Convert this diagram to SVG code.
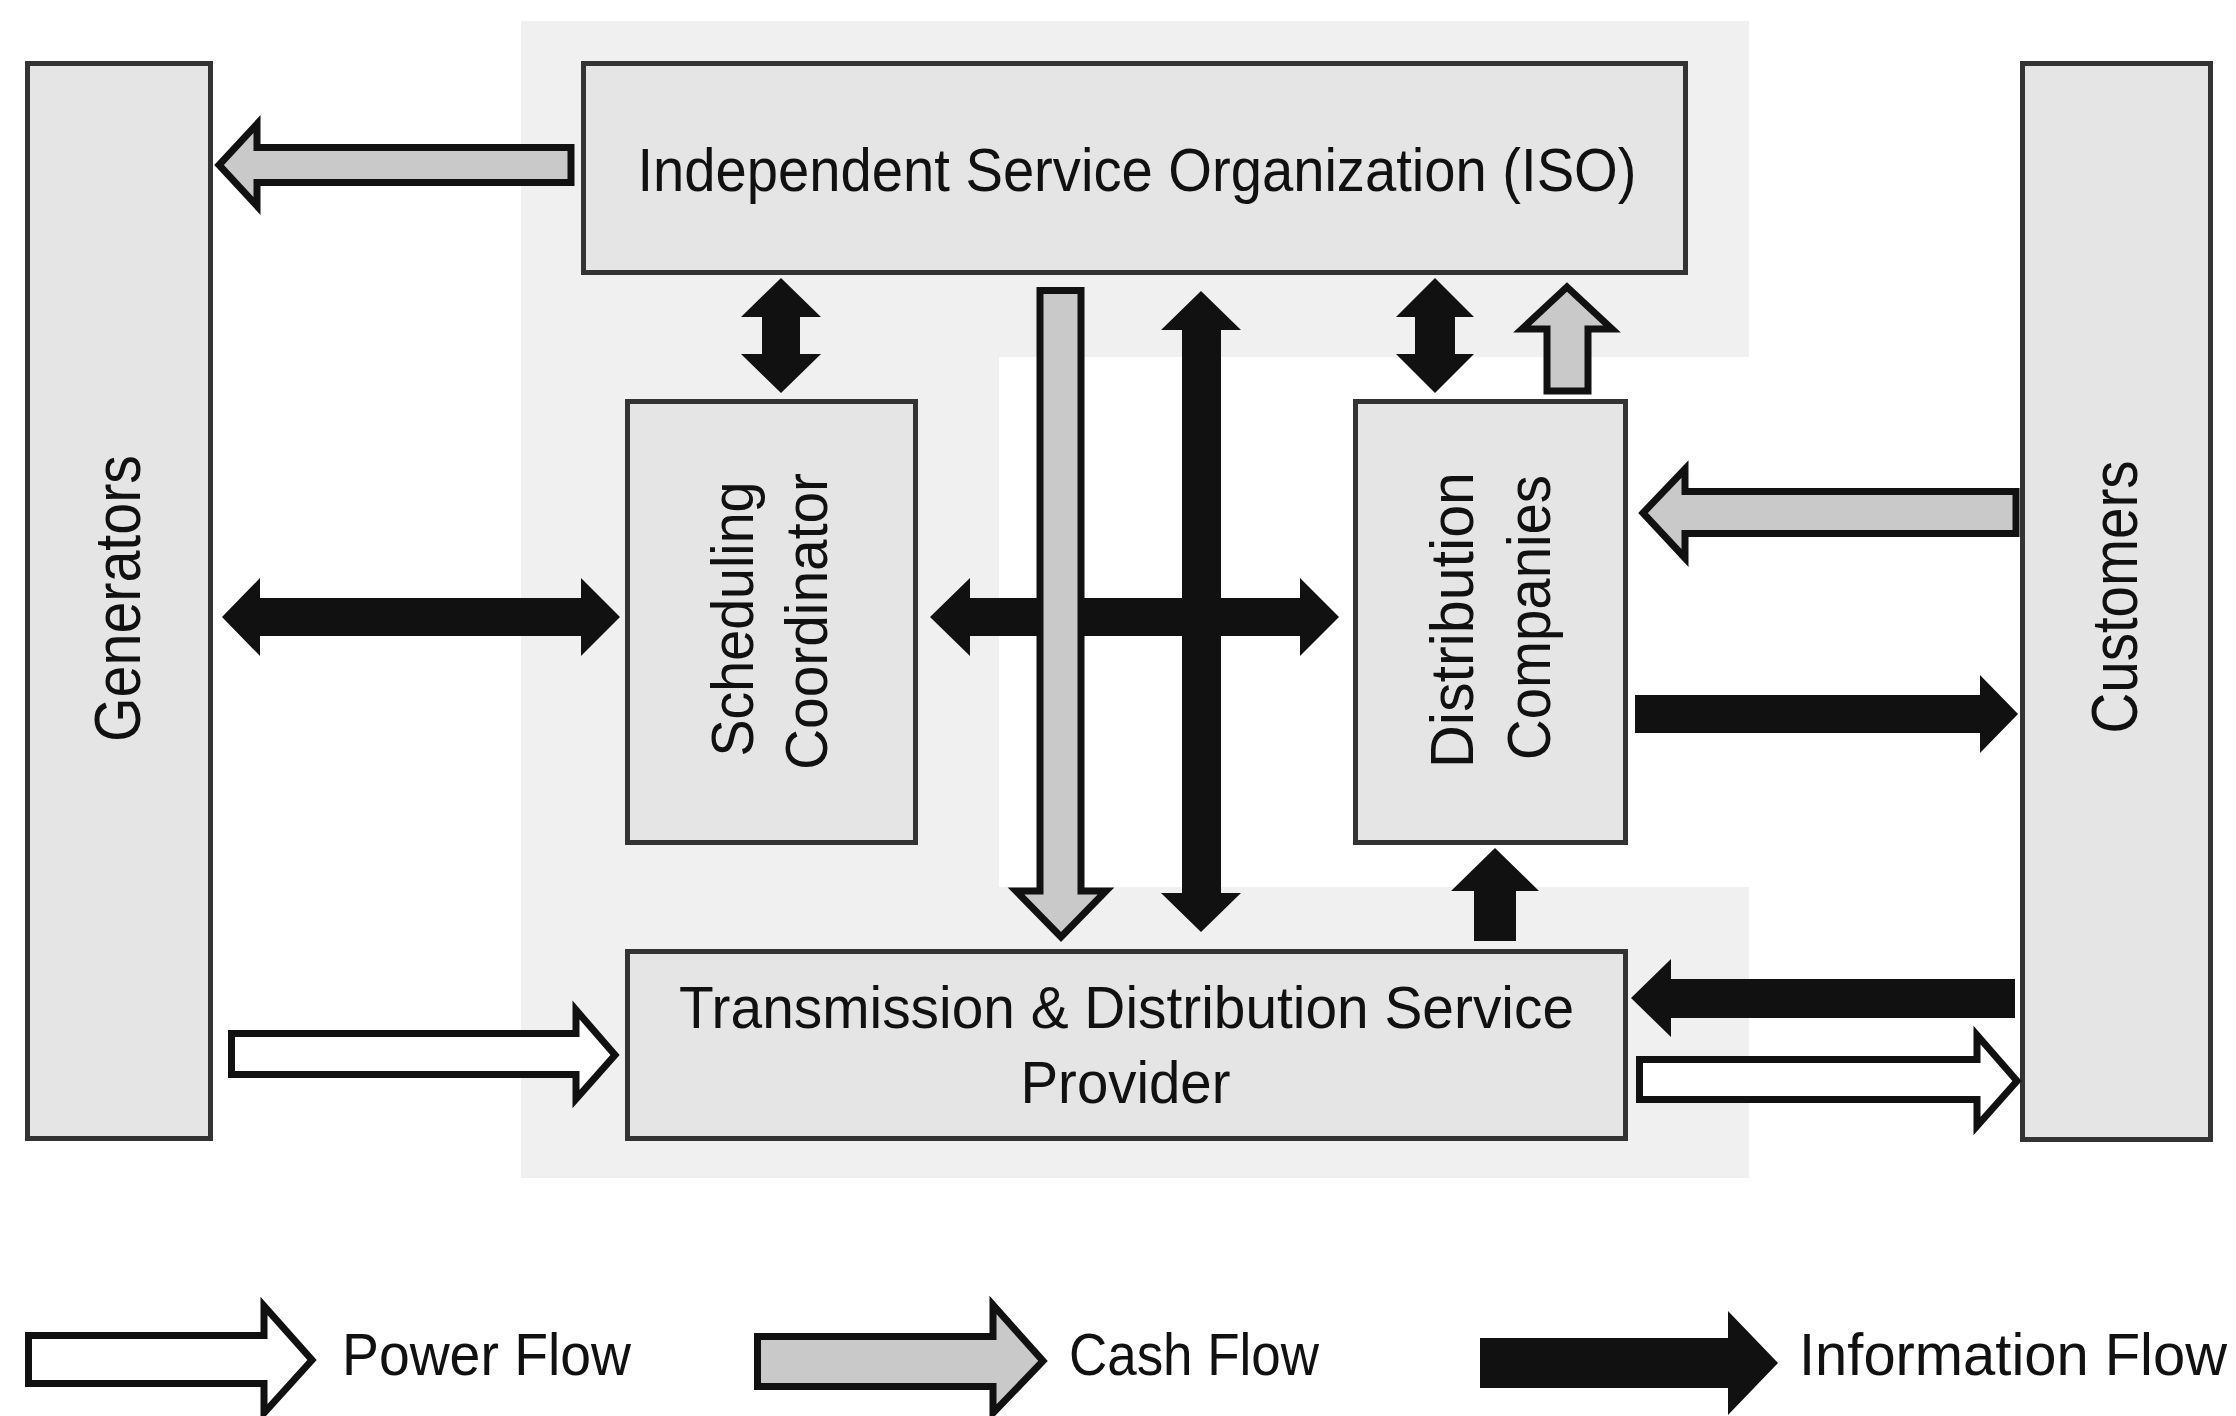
<svg xmlns="http://www.w3.org/2000/svg" width="2236" height="1416" viewBox="0 0 2236 1416">
<style>
.box{fill:#e5e5e5;stroke:#333333;stroke-width:5}
.t{font-family:"Liberation Sans",Arial,sans-serif;fill:#111}
.info{fill:#111;stroke:none}
.cash{fill:#c9c9c9;stroke:#111;stroke-width:7;stroke-linejoin:miter}
.power{fill:#ffffff;stroke:#111;stroke-width:7;stroke-linejoin:miter}
</style>
<rect width="2236" height="1416" fill="#ffffff"/>
<path id="backdrop" d="M521,21 H1749 V357 H999 V887 H1749 V1178 H521 Z" fill="#f0f0f0"/>

<g id="generators">
<rect class="box" x="27.5" y="63.5" width="183" height="1075"/>
<text class="t" font-size="65" textLength="287" lengthAdjust="spacingAndGlyphs" transform="translate(140,598.5) rotate(-90)" x="-143.5" y="0">Generators</text>
</g>
<g id="customers">
<rect class="box" x="2022.5" y="63.5" width="188" height="1076"/>
<text class="t" font-size="64" textLength="273" lengthAdjust="spacingAndGlyphs" transform="translate(2137,597) rotate(-90)" x="-136.5" y="0">Customers</text>
</g>
<g id="iso">
<rect class="box" x="583.5" y="63.5" width="1102" height="209"/>
<text class="t" font-size="62" textLength="999" lengthAdjust="spacingAndGlyphs" x="637.5" y="190.5">Independent Service Organization (ISO)</text>
</g>
<g id="scheduling-coordinator">
<rect class="box" x="627.5" y="401.5" width="288" height="441"/>
<text class="t" font-size="59" textLength="275" lengthAdjust="spacingAndGlyphs" transform="translate(753,619) rotate(-90)" x="-137.5" y="0">Scheduling</text>
<text class="t" font-size="60" textLength="297" lengthAdjust="spacingAndGlyphs" transform="translate(827,621.5) rotate(-90)" x="-148.5" y="0">Coordinator</text>
</g>
<g id="distribution-companies">
<rect class="box" x="1355.5" y="401.5" width="270" height="441"/>
<text class="t" font-size="61" textLength="296" lengthAdjust="spacingAndGlyphs" transform="translate(1473,620) rotate(-90)" x="-148" y="0">Distribution</text>
<text class="t" font-size="61" textLength="285" lengthAdjust="spacingAndGlyphs" transform="translate(1550,617.5) rotate(-90)" x="-142.5" y="0">Companies</text>
</g>
<g id="tdsp">
<rect class="box" x="627.5" y="951.5" width="998" height="187"/>
<text class="t" font-size="60" textLength="895" lengthAdjust="spacingAndGlyphs" x="679" y="1027.5">Transmission &amp; Distribution Service</text>
<text class="t" font-size="60" textLength="210" lengthAdjust="spacingAndGlyphs" x="1020.5" y="1103">Provider</text>
</g>

<g id="connectors">
<!-- ISO -> Generators cash -->
<polygon class="cash" points="571,147.5 257,147.5 257,124 219,165 257,206 257,182.5 571,182.5"/>
<!-- ISO <-> SC info -->
<polygon class="info" points="781,278 821,317 800,317 800,354 821,354 781,393 741,354 762,354 762,317 741,317"/>
<!-- Generators <-> SC info -->
<polygon class="info" points="222,617 260,578 260,598 581,598 581,578 620,617 581,656 581,636 260,636 260,656"/>
<!-- SC <-> DC info -->
<polygon class="info" points="930,617 970,578 970,598 1300,598 1300,578 1339,617 1300,656 1300,636 970,636 970,656"/>
<!-- ISO <-> T&D info -->
<polygon class="info" points="1201,291 1241,330 1221,330 1221,893 1241,893 1201,932 1161,893 1182,893 1182,330 1161,330"/>
<!-- ISO -> T&D cash -->
<polygon class="cash" points="1040,290.5 1081,290.5 1081,891 1106,891 1061,937 1016,891 1040,891"/>
<!-- ISO <-> DC info -->
<polygon class="info" points="1435,278 1474,317 1455,317 1455,354 1474,354 1435,393 1396,354 1415,354 1415,317 1396,317"/>
<!-- DC -> ISO cash -->
<polygon class="cash" points="1567,287 1612,329 1588,329 1588,391 1547,391 1547,329 1522,329"/>
<!-- Customers -> DC cash -->
<polygon class="cash" points="2016,491.5 1685,491.5 1685,469 1643,513 1685,558 1685,533.5 2016,533.5"/>
<!-- DC -> Customers info -->
<polygon class="info" points="1635,695 1980,695 1980,675 2018,714 1980,753 1980,733 1635,733"/>
<!-- T&D -> DC info -->
<polygon class="info" points="1495,848 1539,891 1516,891 1516,941 1474,941 1474,891 1451,891"/>
<!-- Customers -> T&D info -->
<polygon class="info" points="2015,979 1671,979 1671,959 1631,998 1671,1037 1671,1018 2015,1018"/>
<!-- T&D -> Customers power -->
<polygon class="power" points="1639.5,1059.5 1977,1059.5 1977,1035 2017,1081 1977,1126 1977,1099.5 1639.5,1099.5"/>
<!-- Generators -> T&D power -->
<polygon class="power" points="231.5,1033.5 576,1033.5 576,1010 615,1055 576,1099 576,1074.5 231.5,1074.5"/>
</g>

<g id="legend">
<polygon class="power" points="28.5,1335.5 264,1335.5 264,1306 312,1360 264,1413 264,1383.5 28.5,1383.5"/>
<text class="t" font-size="59" textLength="289" lengthAdjust="spacingAndGlyphs" x="342" y="1375">Power Flow</text>
<polygon class="cash" points="757.5,1336.5 993,1336.5 993,1305 1043,1361 993,1413 993,1386.5 757.5,1386.5"/>
<text class="t" font-size="59" textLength="250" lengthAdjust="spacingAndGlyphs" x="1069" y="1375">Cash Flow</text>
<polygon class="info" points="1480,1338 1728,1338 1728,1311 1778,1363 1728,1415 1728,1388 1480,1388"/>
<text class="t" font-size="59" textLength="428" lengthAdjust="spacingAndGlyphs" x="1799" y="1375">Information Flow</text>
</g>
</svg>
